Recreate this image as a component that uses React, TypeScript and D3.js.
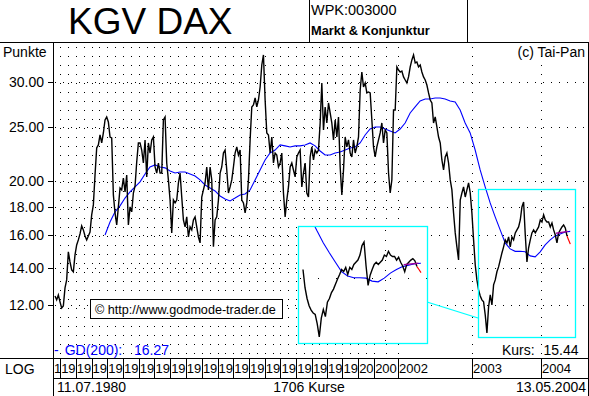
import React from 'react';
import * as d3 from 'd3';

// KGV DAX samples, evenly spaced over the 1706 quotes (11.07.1980 .. 13.05.2004)
const kgv: number[] = [
  12.48, 12.28, 12.53, 12.18, 11.88, 11.98, 12.90, 13.33, 14.96, 14.35,
  13.89, 13.78, 14.77, 15.39, 15.71, 16.10, 16.64, 16.37, 15.97, 15.71,
  15.97, 16.23, 17.41, 18.14, 20.51, 22.92, 23.21, 24.18, 23.40, 24.38,
  25.72, 26.04, 25.51, 23.98, 23.89, 18.90, 17.55, 16.71, 17.99, 19.45,
  19.29, 20.26, 19.13, 20.51, 16.71, 17.99, 17.63, 19.05, 19.61, 21.64,
  23.40, 23.40,
  22.73, 21.55, 23.69, 20.35, 23.40, 22.45, 23.69, 23.98, 21.20, 20.68,
  21.55, 20.68, 20.68, 25.72, 26.04, 21.55, 20.10, 18.51, 16.17, 18.51,
  18.29, 18.51, 19.85, 20.68, 18.74, 17.05, 16.57, 17.27, 15.90, 16.57,
  16.37, 17.05, 17.27, 16.57, 15.90, 15.52, 18.74, 19.29, 19.85, 21.20,
  19.29, 21.20, 20.10, 15.27, 17.05, 17.27, 18.51, 20.68, 21.20, 22.45,
  22.73, 20.94, 19.05, 19.53,
  20.10, 21.20, 22.45, 23.02, 22.27, 22.73, 18.51, 18.29, 17.55, 18.29,
  20.10, 23.69, 27.13, 27.35, 28.15, 27.13, 27.92, 29.45, 32.24, 33.59,
  27.92, 24.38, 24.18, 22.45, 23.98, 21.55, 22.45, 22.27, 21.20, 21.55,
  22.45, 19.05, 17.27, 18.51, 19.53, 21.20, 21.55, 20.94, 20.35, 22.09,
  22.45, 22.73, 19.53, 20.68, 21.55, 19.05, 18.74, 22.09, 23.02, 21.82,
  22.73, 22.45, 22.73, 25.40,
  29.94, 24.68, 27.13, 25.40, 27.58, 26.47, 25.40, 23.69, 25.72, 23.98,
  26.04, 21.20, 18.90, 20.94, 23.98, 23.02, 23.69, 22.45, 22.09, 23.69,
  22.45, 23.02, 23.98, 29.09, 31.32, 29.45, 29.94, 28.74, 28.85, 28.74,
  25.72, 23.02, 22.09, 23.02, 23.69, 24.38, 25.40, 23.40, 24.68, 24.38,
  20.68, 19.05, 20.10, 26.80, 26.80, 31.98, 31.58, 31.32, 31.45, 30.69,
  30.31, 29.94, 30.69, 31.98,
  32.91, 33.59, 32.51, 32.64, 31.98, 32.24, 31.32, 30.69, 30.31, 29.69,
  28.74, 27.92, 27.58, 25.40, 26.04, 24.99, 23.98, 23.40, 21.82, 20.94,
  22.09, 22.45, 21.55, 20.10, 19.29, 17.55, 16.17, 15.27, 14.47, 18.51,
  19.05, 19.53, 18.74, 19.29, 19.85, 19.05, 17.55, 15.71, 14.17, 13.33,
  12.79, 12.48, 12.28, 12.18, 11.54, 10.72, 11.93, 12.53, 12.03, 13.06,
  13.33, 13.78,
  14.06, 14.47, 14.89, 15.27, 15.71, 15.52, 15.90, 15.27, 15.90, 15.71,
  16.17, 16.37, 16.57, 17.05, 17.99, 18.36, 16.03, 14.35, 15.21, 15.71,
  16.17, 16.37, 16.17, 16.37, 16.57, 17.05, 16.91, 17.41, 17.05, 16.91,
  16.91, 16.57, 16.84, 16.37, 16.03, 15.52, 16.17, 16.37, 16.57, 16.71,
  16.50, 15.97, 15.71, 15.44,
];
const lastQuoteIdx = 1705;
const redTailCount = 3;

// GD(200) moving average samples
const gd200: number[] = [
  16.03, 16.91, 17.63, 18.07, 18.66, 19.13, 19.53, 19.94, 20.60, 21.20,
  21.38, 21.20, 21.12, 20.85, 20.68, 20.77, 20.77, 20.60, 20.43, 20.10,
  19.69, 19.45, 19.21, 18.82, 18.59, 18.44, 18.66, 18.90, 18.97, 19.29,
  20.10, 20.94, 21.82, 22.45, 22.73, 23.21, 23.12, 23.02, 23.12, 23.12,
  23.21, 23.40, 23.12, 22.64, 22.27, 22.27, 22.45, 22.55, 22.73, 22.92,
  23.02, 23.40, 24.18, 24.78, 24.99, 24.99, 24.78, 24.58, 24.38, 24.78,
  25.40, 26.47, 27.13, 27.81, 28.03, 28.03, 28.15, 28.15, 28.03, 27.81,
  27.69, 26.80, 25.40, 24.38, 22.73, 20.94, 19.53, 18.29, 17.27, 16.37,
  15.52, 15.14, 14.99, 14.99, 14.96, 14.71, 14.65, 14.96, 15.39, 15.71,
  15.97, 16.10, 16.23, 16.27,
];
const gdFirstIdx = 165.5;
const gdStepIdx = 16.55;

const years = ['1980', '1981', '1982', '1983', '1984', '1985', '1986', '1987', '1988', '1989',
  '1990', '1991', '1992', '1993', '1994', '1995', '1996', '1997', '1998', '1999',
  '2000', '2001', '2002', '2003', '2004'];
const yearStartIdx = [0, 17, 69, 121, 173, 225, 277, 329, 381, 433,
  486, 538, 590, 642, 694, 746, 798, 850, 900, 951,
  1003, 1056, 1135, 1380, 1608];
const weeklyUntilYear = 22; // half-year grid up to 2002

const yTicks = [12, 14, 16, 18, 20, 25, 30];
const trendIdx = [1658, 1698];
const trendVal = [16.15, 16.27];
const insetFromIdx = 1385;
const insetValueRange = [10.36, 20.1];
const insetGridVal = [15];

const kursText = '15.44';
const gdText = '16.27';
const firstDate = '11.07.1980';
const lastDate = '13.05.2004';
const quoteCount = '1706 Kurse';

const FONT = 'Liberation Sans, Arial, Helvetica, sans-serif';
const W = 589, H = 396;
const PL = 53, PR = 588, PT = 42, PB = 358;
const YEAR_FS = 13;
const DIGIT_W = YEAR_FS * 0.556;

type P = { i: number; v: number };

export default function App() {
  const step = lastQuoteIdx / (kgv.length - 1);
  const pts: P[] = kgv.map((v, k) => ({ i: k * step, v }));
  const gdPts: P[] = gd200.map((v, m) => ({ i: gdFirstIdx + m * gdStepIdx, v }));
  const blackPts = pts.slice(0, pts.length - redTailCount + 1);
  const redPts = pts.slice(pts.length - redTailCount);
  const trendPts: P[] = trendIdx.map((i, k) => ({ i, v: trendVal[k] }));

  const x = d3.scaleLinear().domain([0, lastQuoteIdx]).range([55, 570.3]);
  const y = d3.scaleLog().domain([9.67, 35.43]).range([PB, PT]);
  const line = d3.line<P>().x(d => x(d.i)).y(d => y(d.v));

  const ix = d3.scaleLinear().domain([insetFromIdx, lastQuoteIdx]).range([303, 421]);
  const iy = d3.scaleLog().domain(insetValueRange).range([343, 226]);
  const iline = d3.line<P>().x(d => ix(d.i)).y(d => iy(d.v));
  const insetPts = pts.filter(d => d.i >= insetFromIdx - 0.5);
  const insetBlack = insetPts.slice(0, insetPts.length - redTailCount + 1);
  const insetRed = insetPts.slice(insetPts.length - redTailCount);

  const vGrid: number[] = [];
  for (let k = 1; k < yearStartIdx.length; k++) {
    vGrid.push(yearStartIdx[k]);
    if (k < weeklyUntilYear) vGrid.push((yearStartIdx[k] + yearStartIdx[k + 1]) / 2);
  }

  // year boxes; labels are cut to what fits in the box (as the reference shows)
  const yearBoxes = years.map((label, k) => {
    const x0 = k === 0 ? PL : x(yearStartIdx[k]);
    const x1 = k < years.length - 1 ? x(yearStartIdx[k + 1]) : PR;
    const fit = Math.max(1, Math.min(label.length, Math.floor((x1 - x0 + 0.6) / DIGIT_W)));
    return { label: label.slice(0, fit), x0, x1 };
  });

  const crisp = (v: number) => Math.round(v) + 0.5;

  return (
    <svg width={W} height={H} style={{ position: 'absolute', left: 0, top: 0, display: 'block', background: '#fff' }}
      fontFamily={FONT}>
      <defs>
        <clipPath id="plotClip"><rect x={PL + 1} y={PT + 1} width={PR - PL - 1} height={PB - PT - 1} /></clipPath>
        <clipPath id="insetClip"><rect x={299} y={227} width={128} height={116} /></clipPath>
      </defs>
      <rect x={0} y={0} width={W} height={H} fill="#fff" />

      {/* header */}
      <text x={68} y={34} fontSize={37} fill="#000">KGV DAX</text>
      <text x={311} y={15} fontSize={14.5} fill="#000">WPK:003000</text>
      <text x={311} y={35} fontSize={12.8} fontWeight="bold" fill="#000">Markt &amp; Konjunktur</text>
      <line x1={309.5} y1={0} x2={309.5} y2={PT} stroke="#000" />
      <line x1={467.5} y1={0} x2={467.5} y2={PT} stroke="#000" />

      {/* grid */}
      <g clipPath="url(#plotClip)" shapeRendering="crispEdges">
        {yTicks.map(t => (
          <line key={`h${t}`} x1={PL + 2} x2={PR} y1={crisp(y(t))} y2={crisp(y(t))}
            stroke="#000" strokeWidth={1} strokeDasharray="1 7" />
        ))}
        {vGrid.map((g, k) => (
          <line key={`v${k}`} x1={crisp(x(g))} x2={crisp(x(g))} y1={PT + 5} y2={PB}
            stroke="#000" strokeWidth={1} strokeDasharray="1 8" />
        ))}
      </g>

      {/* main series */}
      <g clipPath="url(#plotClip)">
        <path d={line(gdPts) || ''} fill="none" stroke="#0000ff" strokeWidth={1.1} />
        <path d={line(blackPts) || ''} fill="none" stroke="#000" strokeWidth={1.4} />
        <path d={line(redPts) || ''} fill="none" stroke="#ff0000" strokeWidth={1.2} />
        <path d={line(trendPts) || ''} fill="none" stroke="#990099" strokeWidth={1.4} />
      </g>

      {/* source box, connector */}
      <rect x={478.5} y={189.5} width={97} height={148} fill="none" stroke="#00ffff" strokeWidth={1.3} />
      <line x1={427} y1={302} x2={478} y2={318} stroke="#00ffff" strokeWidth={1.3} />

      {/* inset */}
      <rect x={298.5} y={226.5} width={129} height={117} fill="#fff" stroke="none" />
      <g clipPath="url(#insetClip)">
        <g shapeRendering="crispEdges">
          <line x1={crisp(ix(yearStartIdx[24]))} x2={crisp(ix(yearStartIdx[24]))} y1={230} y2={343}
            stroke="#000" strokeDasharray="1 9" />
          {insetGridVal.map(v => (
            <line key={v} x1={300} x2={427} y1={crisp(iy(v))} y2={crisp(iy(v))} stroke="#000" strokeDasharray="1 17" />
          ))}
        </g>
        <path d={iline(gdPts) || ''} fill="none" stroke="#0000ff" strokeWidth={1.1} />
        <path d={iline(insetBlack) || ''} fill="none" stroke="#000" strokeWidth={1.4} />
        <path d={iline(insetRed) || ''} fill="none" stroke="#ff0000" strokeWidth={1.2} />
        <path d={iline(trendPts) || ''} fill="none" stroke="#990099" strokeWidth={1.4} />
      </g>
      <rect x={298.5} y={226.5} width={129} height={117} fill="none" stroke="#00ffff" strokeWidth={1.3} />

      {/* copyright box */}
      <rect x={90.5} y={299.5} width={192} height={19} fill="#fff" stroke="#000" />
      <text x={95} y={314} fontSize={12.6} fill="#000">© http://www.godmode-trader.de</text>

      {/* labels in plot */}
      <text x={3} y={57} fontSize={14} fill="#000">Punkte</text>
      <text x={585} y={57} fontSize={14} fill="#000" textAnchor="end">(c) Tai-Pan</text>
      <text x={54} y={355} fontSize={14} fill="#0000ff">-</text>
      <text x={64.7} y={355} fontSize={14} fill="#0000ff">GD(200):</text>
      <text x={134} y={355} fontSize={14} fill="#0000ff">{gdText}</text>
      <text x={502} y={355} fontSize={14} fill="#000">Kurs:</text>
      <text x={578.5} y={355} fontSize={14} fill="#000" textAnchor="end">{kursText}</text>

      {/* y axis */}
      {yTicks.map(t => (
        <g key={`t${t}`}>
          <line x1={48} x2={PL} y1={crisp(y(t))} y2={crisp(y(t))} stroke="#000" shapeRendering="crispEdges" />
          <text x={44} y={y(t) + 5} fontSize={14} fill="#000" textAnchor="end">{t.toFixed(2)}</text>
        </g>
      ))}

      {/* frame lines */}
      <g shapeRendering="crispEdges" stroke="#000">
        <line x1={0} x2={PR + 1} y1={PT + 0.5} y2={PT + 0.5} />
        <line x1={0} x2={PR + 1} y1={PB + 0.5} y2={PB + 0.5} />
        <line x1={PL} x2={PR + 1} y1={378.5} y2={378.5} />
        <line x1={PL + 0.5} x2={PL + 0.5} y1={PT} y2={H} />
        <line x1={PR + 0.5} x2={PR + 0.5} y1={PT} y2={H} />
      </g>

      {/* year row */}
      <text x={5} y={374} fontSize={14} fill="#000">LOG</text>
      {yearBoxes.map((b, k) => (
        <g key={`y${k}`}>
          {k > 0 && <line x1={crisp(b.x0)} x2={crisp(b.x0)} y1={PB} y2={378} stroke="#000" shapeRendering="crispEdges" />}
          <text x={b.x0 + 1} y={373} fontSize={YEAR_FS} fill="#000">{b.label}</text>
        </g>
      ))}

      {/* date row */}
      <text x={57} y={392} fontSize={14} fill="#000">{firstDate}</text>
      <text x={309} y={392} fontSize={14} fill="#000" textAnchor="middle">{quoteCount}</text>
      <text x={586} y={392} fontSize={14} fill="#000" textAnchor="end">{lastDate}</text>
    </svg>
  );
}
